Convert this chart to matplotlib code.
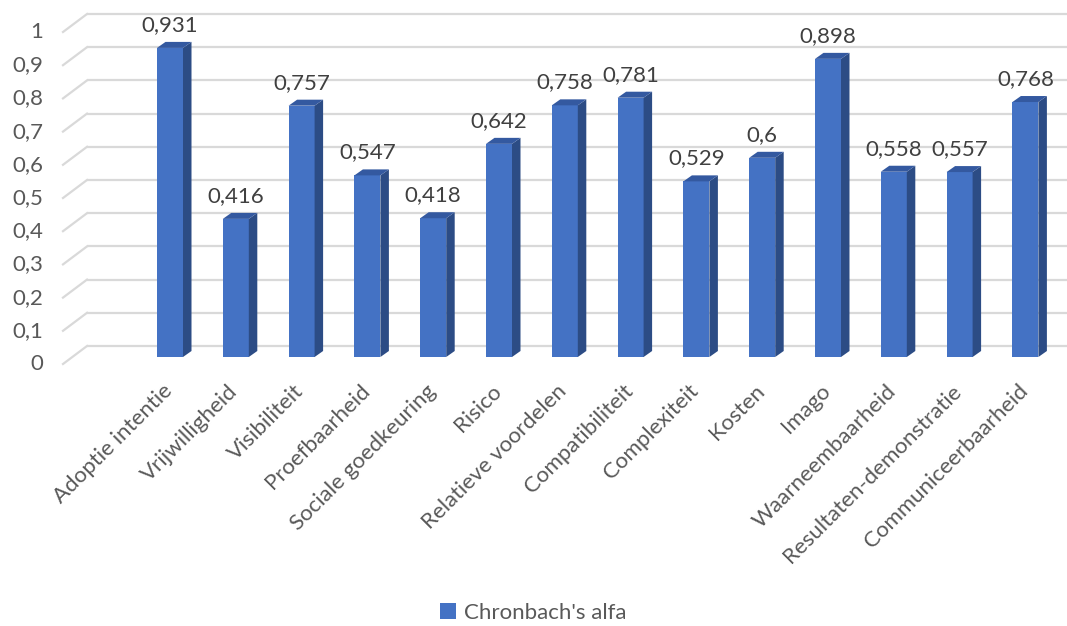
import matplotlib
matplotlib.use("Agg")
import matplotlib.pyplot as plt
from matplotlib.patches import Polygon, Rectangle

# reliability per construct
categories = ["Adoptie intentie", "Vrijwilligheid", "Visibiliteit", "Proefbaarheid",
              "Sociale goedkeuring", "Risico", "Relatieve voordelen", "Compatibiliteit",
              "Complexiteit", "Kosten", "Imago", "Waarneembaarheid",
              "Resultaten-demonstratie", "Communiceerbaarheid"]
alfa = [0.931, 0.416, 0.757, 0.547, 0.418, 0.642, 0.758, 0.781,
        0.529, 0.6, 0.898, 0.558, 0.557, 0.768]
yticks = [0, 0.1, 0.2, 0.3, 0.4, 0.5, 0.6, 0.7, 0.8, 0.9, 1]
series_name = "Chronbach's alfa"

W, H = 1067, 626
FRONT = "#4472C4"
SIDE = "#2C4C85"
TOP = "#3459A0"
GRID = "#D9D9D9"
TXT = "#595959"
FONT = "Lato"
FS = 16

fig = plt.figure(figsize=(W / 100, H / 100), dpi=100)
ax = fig.add_axes([0, 0, 1, 1])
ax.set_axis_off()

# pixel-based scale so the fake-3D depth offsets are easy to express
step_px, unit_px = 65.8, 332.0
x0_px, y0_px = 170.0, H - 357.0
ax.set_xlim(-x0_px / step_px, (W - x0_px) / step_px)
ax.set_ylim(-y0_px / unit_px, (H - y0_px) / unit_px)
px = 1 / step_px
py = 1 / unit_px

# back wall sits behind the bars, floor front edge in front of them
back_dx, back_dy = 14.7 * px, 11 * py
front_dx, front_dy = -9.3 * px, -7 * py
wall_left = (87 - x0_px) * px - back_dx

for v in yticks:
    ax.plot([wall_left + back_dx, ax.get_xlim()[1]], [v + back_dy, v + back_dy],
            color=GRID, lw=1.6, solid_capstyle="butt", zorder=1)
    ax.plot([wall_left + front_dx, wall_left + back_dx], [v + front_dy, v + back_dy],
            color=GRID, lw=1.6, zorder=1)
    ax.text(wall_left + front_dx - 20 * px, v + front_dy, f"{v:g}".replace(".", ","),
            ha="right", va="center", fontsize=FS, color=TXT, family=FONT)

# bars: front face, side face, top face
bw = 26 * px
ddx, ddy = 8.5 * px, 6 * py
for i, v in enumerate(alfa):
    l, r = i - bw / 2, i + bw / 2
    ax.add_patch(Rectangle((l, 0), bw, v, facecolor=FRONT, edgecolor="none", zorder=3))
    ax.add_patch(Polygon([(r, 0), (r + ddx, ddy), (r + ddx, v + ddy), (r, v)],
                         closed=True, facecolor=SIDE, edgecolor="none", zorder=3))
    ax.add_patch(Polygon([(l, v), (r, v), (r + ddx, v + ddy), (l + ddx, v + ddy)],
                         closed=True, facecolor=TOP, edgecolor="none", zorder=3))
    ax.text(i, v + ddy + 7 * py, f"{v:g}".replace(".", ","), ha="center", va="bottom",
            fontsize=FS, color="#404040", family=FONT, zorder=4)
    ax.text(i - 8 * px, -24 * py, categories[i], rotation=45, ha="right", va="top",
            rotation_mode="anchor", fontsize=FS, color=TXT, family=FONT)

# legend
fig.legend(handles=[Rectangle((0, 0), 1, 1, facecolor=FRONT)], labels=[series_name],
           loc="center", bbox_to_anchor=(0.5, 1 - 613 / H), frameon=False,
           handlelength=0.7, handleheight=0.7, handletextpad=0.4,
           prop={"family": FONT, "size": FS}, labelcolor=TXT)

fig.savefig("out.png", dpi=100)
